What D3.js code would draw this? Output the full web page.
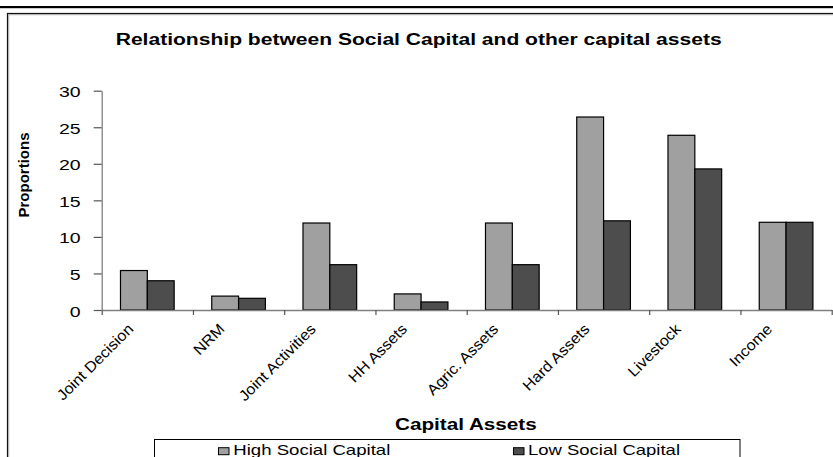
<!DOCTYPE html>
<html>
<head>
<meta charset="utf-8">
<script src="https://cdn.jsdelivr.net/npm/d3@7"></script>
<style>
  html, body { margin: 0; padding: 0; background: #fff; }
  svg { display: block; font-family: "Liberation Sans", Arial, sans-serif; }
</style>
</head>
<body>
<svg id="chart" width="833" height="457"></svg>
<script>
const categories = [
  "Joint Decision", "NRM", "Joint Activities", "HH Assets",
  "Agric. Assets", "Hard Assets", "Livestock", "Income"
]
const seriesNames = ["High Social Capital", "Low Social Capital"]
const highSocial = [5.4, 1.9, 11.9, 2.2, 11.9, 26.4, 23.9, 12.0]
const lowSocial = [4.0, 1.6, 6.2, 1.1, 6.2, 12.2, 19.3, 12.0]
const yTicks = [0, 5, 10, 15, 20, 25, 30]

const seriesFill = { "High Social Capital": "#a0a0a0", "Low Social Capital": "#4d4d4d" }

// rows for the grouped bars
const rows = categories.map((c, i) => ({
  name: c,
  values: [
    { key: seriesNames[0], value: highSocial[i] },
    { key: seriesNames[1], value: lowSocial[i] }
  ]
}))

const svg = d3.select("#chart")
const plot = { left: 101.7, right: 831.7, top: 90.7, bottom: 310 }

// outer frame (picture is cut from a larger page)
svg.append("rect")
  .attr("x", 0).attr("y", 6)
  .attr("width", 833).attr("height", 2.2)
  .attr("fill", "#000")

svg.append("rect")
  .attr("x", 7.5).attr("y", 13.5)
  .attr("width", 900).attr("height", 500)
  .attr("fill", "none")
  .attr("stroke", "#111")
  .attr("stroke-width", 1.2)

svg.append("rect")
  .attr("x", 8.7).attr("y", 14.7)
  .attr("width", 900).attr("height", 500)
  .attr("fill", "none")
  .attr("stroke", "#aaa")
  .attr("stroke-width", 1)

const x0 = d3.scaleBand()
  .domain(categories)
  .range([plot.left, plot.right])
  .padding(0)

const x1 = d3.scaleBand()
  .domain(seriesNames)
  .range([0, x0.bandwidth()])
  .paddingInner(0)
  .paddingOuter(0.7)

const y = d3.scaleLinear()
  .domain([0, 30])
  .range([plot.bottom, plot.top])

// y axis
const yAxis = svg.append("g")
  .attr("transform", `translate(${plot.left},0)`)
  .call(d3.axisLeft(y).tickValues(yTicks).tickSize(8).tickSizeOuter(0))

yAxis.select(".domain").attr("stroke", "#808080").attr("stroke-width", 1.3)
yAxis.selectAll(".tick line").attr("stroke", "#555").attr("stroke-width", 1.2)
yAxis.selectAll(".tick text")
  .attr("x", 0)
  .attr("dy", "0.4em")
  .attr("transform", "translate(-21,0) scale(1.3,1)")
  .attr("font-size", 15)
  .attr("fill", "#000")
  .attr("font-family", "Liberation Sans, Arial, sans-serif")

// bars
const groups = svg.append("g")
  .selectAll("g")
  .data(rows)
  .enter()
  .append("g")
  .attr("transform", d => `translate(${x0(d.name)},0)`)

groups.selectAll("rect")
  .data(d => d.values)
  .enter()
  .append("rect")
  .attr("x", d => x1(d.key))
  .attr("y", d => y(d.value))
  .attr("width", x1.bandwidth())
  .attr("height", d => y(0) - y(d.value))
  .attr("fill", d => seriesFill[d.key])
  .attr("stroke", "#000")
  .attr("stroke-width", 1.2)

// x axis, ticks sit between the categories
const xEdges = d3.scaleLinear()
  .domain([0, categories.length])
  .range([plot.left, plot.right])

const xAxis = svg.append("g")
  .attr("transform", `translate(0,${plot.bottom})`)
  .call(d3.axisBottom(xEdges)
    .tickValues(d3.range(0, categories.length + 1))
    .tickFormat("")
    .tickSize(5)
    .tickSizeOuter(0))

xAxis.select(".domain").attr("stroke", "#808080").attr("stroke-width", 1.3)
xAxis.selectAll(".tick line").attr("stroke", "#555").attr("stroke-width", 1.2)

// rotated category labels
svg.append("g")
  .selectAll("text")
  .data(categories)
  .enter()
  .append("text")
  .attr("transform", d => {
    const cx = x0(d) + x0.bandwidth() / 2 - 13
    return `translate(${cx},${plot.bottom + 20}) rotate(-45) scale(1.08,1)`
  })
  .attr("text-anchor", "end")
  .attr("font-size", 15)
  .attr("fill", "#000")
  .text(d => d)

// titles
svg.append("text")
  .attr("x", 115.7).attr("y", 45)
  .attr("font-size", 16)
  .attr("font-weight", "bold")
  .attr("textLength", 606)
  .attr("lengthAdjust", "spacingAndGlyphs")
  .text("Relationship between Social Capital and other capital assets")

svg.append("text")
  .attr("x", 395).attr("y", 430)
  .attr("font-size", 16)
  .attr("font-weight", "bold")
  .attr("textLength", 141.7)
  .attr("lengthAdjust", "spacingAndGlyphs")
  .text("Capital Assets")

svg.append("text")
  .attr("transform", "translate(29,175) rotate(-90)")
  .attr("text-anchor", "middle")
  .attr("font-size", 15)
  .attr("font-weight", "bold")
  .text("Proportions")

// legend
const legend = svg.append("g")

legend.append("rect")
  .attr("x", 154.5).attr("y", 439.5)
  .attr("width", 585.5).attr("height", 40)
  .attr("fill", "#fff")
  .attr("stroke", "#000")
  .attr("stroke-width", 1)

const legendPos = [
  { sx: 218.5, tx: 233.3, len: 157 },
  { sx: 513.5, tx: 528, len: 152 }
]

legend.selectAll(".key")
  .data(seriesNames)
  .enter()
  .append("rect")
  .attr("class", "key")
  .attr("x", (d, i) => legendPos[i].sx)
  .attr("y", 447.7)
  .attr("width", 10.5)
  .attr("height", 7)
  .attr("fill", d => seriesFill[d])
  .attr("stroke", "#000")
  .attr("stroke-width", 1)

legend.selectAll(".label")
  .data(seriesNames)
  .enter()
  .append("text")
  .attr("class", "label")
  .attr("x", (d, i) => legendPos[i].tx)
  .attr("y", 454.7)
  .attr("font-size", 15)
  .attr("textLength", (d, i) => legendPos[i].len)
  .attr("lengthAdjust", "spacingAndGlyphs")
  .text(d => d)
</script>
</body>
</html>
